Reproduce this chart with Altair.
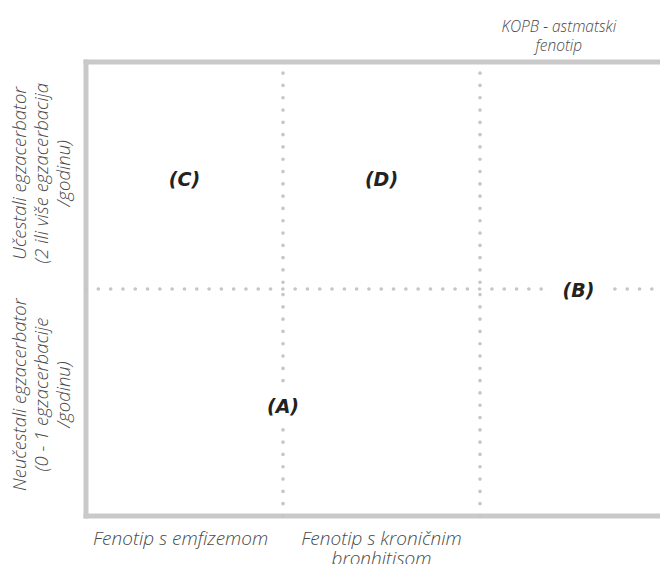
import altair as alt
import pandas as pd

# Quadrant grid (data units)
x_domain = [0, 3]
y_domain = [0, 2]
x_dividers = [1, 2]
y_dividers = [1]

# Column (phenotype) labels
col_labels = [["Fenotip s emfizemom"],
              ["Fenotip s kroničnim", "bronhitisom"],
              ["KOPB - astmatski", "fenotip"]]
col_pos = [0.48, 1.5, 2.4]

# Row (exacerbation) labels
row_labels = [["Neučestali egzacerbator", "(0 - 1 egzacerbacije", "/godinu)"],
              ["Učestali egzacerbator", "(2 ili više egzacerbacija", "/godinu)"]]
row_pos = [0.535, 1.51]

# Quadrant markers
quad_labels = ["(A)", "(B)", "(C)", "(D)"]
quad_x = [1, 2.5, 0.5, 1.5]
quad_y = [0.49, 1, 1.49, 1.49]

FONT = "Open Sans"
QFONT = "DejaVu Sans"
BORDER = "#c9c9c9"
DOT = "#c6c6c6"
TXT = "#4a4a4a"

xs = alt.Scale(domain=x_domain, range=[0, 591], nice=False, zero=False)
ys = alt.Scale(domain=y_domain, range=[454, 0], nice=False, zero=False)

border_df = pd.DataFrame([
    {"x": x_domain[0], "x2": x_domain[0], "y": y_domain[0], "y2": y_domain[1]},
    {"x": x_domain[0], "x2": x_domain[1], "y": y_domain[1], "y2": y_domain[1]},
    {"x": x_domain[0], "x2": x_domain[1], "y": y_domain[0], "y2": y_domain[0]},
])
div_df = pd.DataFrame(
    [{"x": v, "x2": v, "y": y_domain[0], "y2": y_domain[1]} for v in x_dividers]
    + [{"x": x_domain[0], "x2": x_domain[1], "y": v, "y2": v} for v in y_dividers]
)

def seg(df):
    return alt.Chart(df).encode(
        x=alt.X("x:Q", scale=xs, axis=None),
        x2="x2:Q",
        y=alt.Y("y:Q", scale=ys, axis=None),
        y2="y2:Q",
    )

borders = seg(border_df).mark_rule(color=BORDER, strokeWidth=5, strokeCap="square")
dividers = seg(div_df).mark_rule(color=DOT, strokeWidth=3.6, strokeCap="round",
                                 strokeDash=[0.1, 12.2])

quad_df = pd.DataFrame({"t": quad_labels, "x": quad_x, "y": quad_y})
qbase = alt.Chart(quad_df).encode(
    x=alt.X("x:Q", scale=xs, axis=None),
    y=alt.Y("y:Q", scale=ys, axis=None),
    text="t:N",
)
halo = qbase.mark_text(font=QFONT, fontSize=19, fontWeight="bold", fontStyle="italic",
                       fill="white", stroke="white", strokeWidth=26, strokeJoin="round",
                       baseline="middle", align="center", dy=2)
quads = qbase.mark_text(font=QFONT, fontSize=19, fontWeight="bold", fontStyle="italic",
                        color="#222222", baseline="middle", align="center", dy=2)

col_df = pd.DataFrame({"t": col_labels, "x": col_pos})
bottom_df = col_df.iloc[:2].copy()
bottom_df["y"] = y_domain[0]
top_df = col_df.iloc[2:].copy()
top_df["y"] = y_domain[1]

def txt(df):
    return alt.Chart(df).encode(
        x=alt.X("x:Q", scale=xs, axis=None),
        y=alt.Y("y:Q", scale=ys, axis=None),
        text="t",
    )

bottom_txt = txt(bottom_df).mark_text(font=FONT, fontSize=19, fontWeight=300,
                                      fontStyle="italic", color=TXT, align="center",
                                      baseline="alphabetic", dy=29, lineHeight=20)
top_txt = txt(top_df).mark_text(font=FONT, fontSize=15.5, fontWeight=300,
                                fontStyle="italic", color=TXT, align="center",
                                baseline="alphabetic", dy=-30, lineHeight=19)

row_df = pd.DataFrame({"t": row_labels, "y": row_pos, "x": [x_domain[0]] * 2})
row_txt = txt(row_df).mark_text(font=FONT, fontSize=18.5, fontWeight=300,
                                fontStyle="italic", color=TXT, align="center",
                                baseline="middle", angle=270, dy=-66, lineHeight=22)

chart = alt.layer(borders, dividers, halo, quads, bottom_txt, top_txt, row_txt).properties(
    width=574, height=454,
    autosize=alt.AutoSizeParams(type="none"),
    padding={"left": 78, "top": 54, "right": 0, "bottom": 48},
).configure_view(stroke=None)

chart.save("out.html", embed_options={"renderer": "svg", "actions": False})
